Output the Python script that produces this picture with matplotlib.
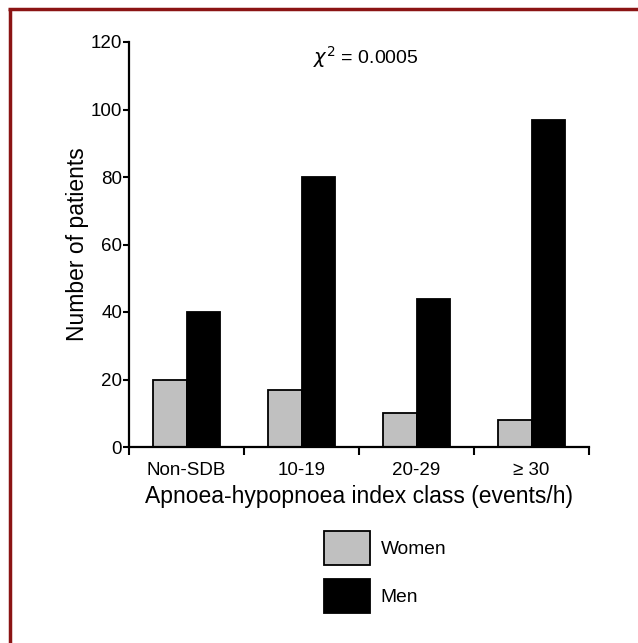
import matplotlib
matplotlib.use("Agg")
import matplotlib.pyplot as plt
import numpy as np
from matplotlib.lines import Line2D

categories = ["Non-SDB", "10-19", "20-29", "\u2265 30"]
women = [20, 17, 10, 8]
men = [40, 80, 44, 97]
yticks = [0, 20, 40, 60, 80, 100, 120]

plt.rcParams['font.family'] = ['Liberation Sans', 'DejaVu Sans']

fig = plt.figure(figsize=(6.38, 6.43), dpi=100)
W, H = 638, 643
ax = fig.add_axes([129 / W, 196 / H, 460 / W, 405 / H])

x = np.arange(len(categories))
bw = 0.292
ax.bar(x - bw / 2, women, bw, color="#c0c0c0", edgecolor="black", linewidth=1.3, label="Women")
ax.bar(x + bw / 2, men, bw, color="black", edgecolor="black", linewidth=1.3, label="Men")

ax.set_xlim(-0.5, len(categories) - 0.5)
ax.set_ylim(0, 120)
ax.set_yticks(yticks)
ax.set_xticks(x)
ax.set_xticklabels(categories, fontsize=13.5)
ax.set_xticks(np.arange(-0.5, len(categories), 1), minor=True)
ax.tick_params(axis='x', which='major', length=0, pad=11)
ax.tick_params(axis='x', which='minor', length=6, width=1.5, direction='out')
ax.tick_params(axis='y', length=4, width=1.5, direction='out', labelsize=13.5, pad=1)
for s in ['top', 'right']:
    ax.spines[s].set_visible(False)
for s in ['left', 'bottom']:
    ax.spines[s].set_linewidth(1.6)

ax.set_ylabel("Number of patients", fontsize=16.5, labelpad=1)
ax.set_xlabel("Apnoea-hypopnoea index class (events/h)", fontsize=16.5, labelpad=4)

fig.text(366 / W, 1 - 57 / H, r"$\chi^2$ = 0.0005", fontsize=14, ha='center', va='center')

handles, labels = ax.get_legend_handles_labels()
leg = fig.legend(handles, labels, loc='upper left', bbox_to_anchor=(324 / W, 1 - 531 / H),
                 frameon=False, fontsize=13.8, handlelength=2.4, handleheight=2.35,
                 labelspacing=0.73, handletextpad=0.55, borderaxespad=0, borderpad=0)

# frame border (top and left), dark red
fig.add_artist(Line2D([9.5 / W, 9.5 / W], [0, 1 - 8.5 / H], transform=fig.transFigure,
                      color="#8b1414", linewidth=2.5, solid_capstyle='butt'))
fig.add_artist(Line2D([8 / W, 1], [1 - 8.5 / H, 1 - 8.5 / H], transform=fig.transFigure,
                      color="#8b1414", linewidth=2.5, solid_capstyle='butt'))

fig.savefig("out.png", dpi=100)
